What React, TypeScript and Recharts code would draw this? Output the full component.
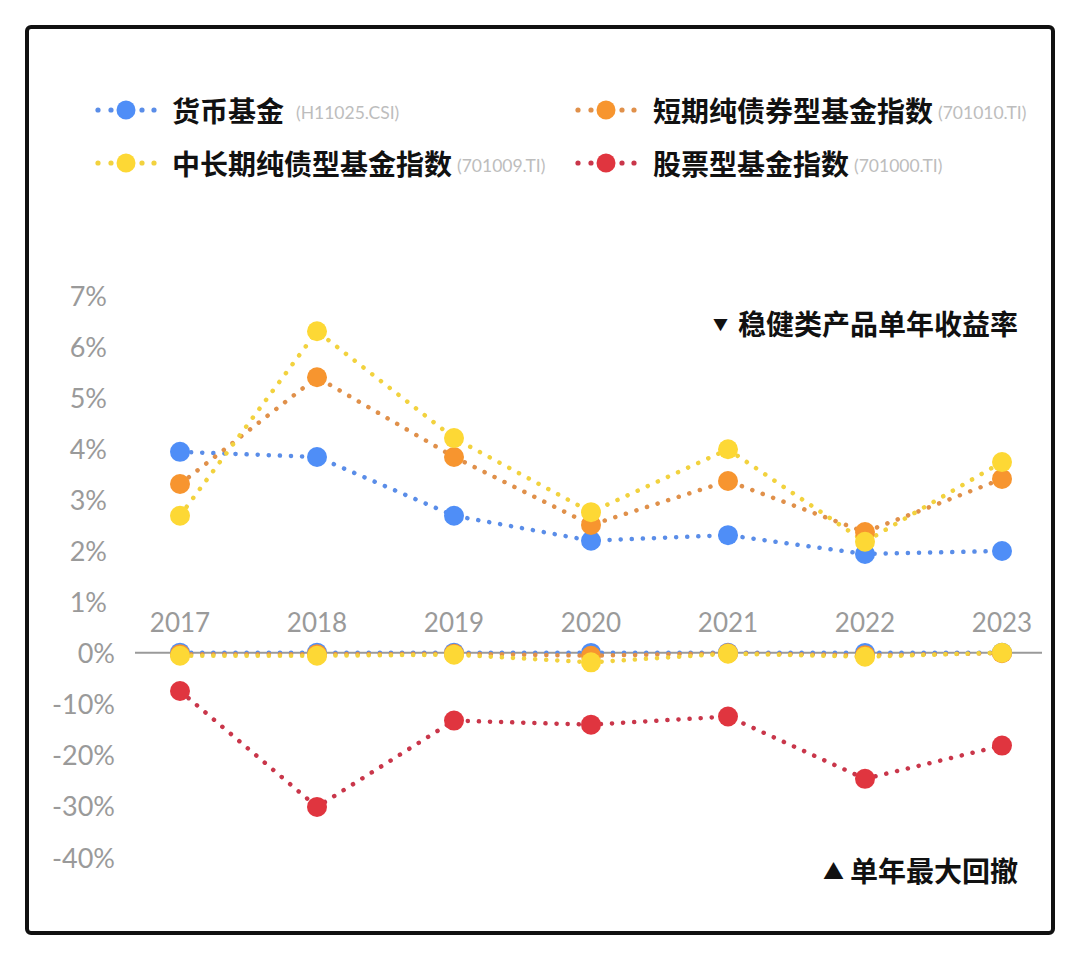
import React from "react"
import { Line, LineChart, ReferenceLine, XAxis, YAxis } from "recharts"

// 年份
const years = ["2017", "2018", "2019", "2020", "2021", "2022", "2023"]

// 单年收益率 (%)
const moneyReturn = [3.93, 3.83, 2.68, 2.19, 2.3, 1.93, 1.99]
const shortBondReturn = [3.3, 5.39, 3.83, 2.5, 3.36, 2.36, 3.4]
const longBondReturn = [2.68, 6.29, 4.2, 2.75, 3.98, 2.17, 3.73]

// 单年最大回撤 (%)
const moneyDrawdown = [0, 0, 0, -0.05, 0, -0.05, 0]
const shortBondDrawdown = [-0.3, -0.3, -0.2, -0.6, -0.1, -0.5, -0.1]
const longBondDrawdown = [-0.6, -0.6, -0.4, -1.9, -0.2, -0.8, 0]
const stockDrawdown = [-7.5, -30.2, -13.3, -14.1, -12.5, -24.7, -18.2]

// y 轴刻度: 正半轴 1% 一格, 负半轴 10% 一格
const yTicks = [-4, -3, -2, -1, 0, 1, 2, 3, 4, 5, 6, 7]

const DD_RATIO = 10 // 回撤区间压缩比

const COLORS = {
  money: { dot: "#4F8EF7", line: "#5A8DE8" },
  shortBond: { dot: "#F7952F", line: "#E0904A" },
  longBond: { dot: "#FDD835", line: "#F2D23E" },
  stock: { dot: "#E0353F", line: "#C9364A" },
}

const rows = years.map((year, i) => ({
  year,
  money: moneyReturn[i],
  shortBond: shortBondReturn[i],
  longBond: longBondReturn[i],
  moneyDd: moneyDrawdown[i] / DD_RATIO,
  shortBondDd: shortBondDrawdown[i] / DD_RATIO,
  longBondDd: longBondDrawdown[i] / DD_RATIO,
  stockDd: stockDrawdown[i] / DD_RATIO,
}))

const legendItems = [
  { name: "货币基金", code: "(H11025.CSI)", color: COLORS.money.dot, dots: COLORS.money.line },
  { name: "短期纯债券型基金指数", code: "(701010.TI)", color: COLORS.shortBond.dot, dots: COLORS.shortBond.line },
  { name: "中长期纯债型基金指数", code: "(701009.TI)", color: COLORS.longBond.dot, dots: COLORS.longBond.line },
  { name: "股票型基金指数", code: "(701000.TI)", color: COLORS.stock.dot, dots: COLORS.stock.line },
]

const NUM_FONT = "Lato, 'Noto Sans', sans-serif"
const CJK_FONT = "'Noto Sans CJK SC', 'Noto Sans', sans-serif"

function YTick(props: any) {
  const { x, y, payload } = props
  const v: number = payload.value
  const label = v >= 0 ? `${v}%` : `${v * DD_RATIO}%`
  return (
    <text
      x={x + (v <= 0 ? 8 : 0)}
      y={y}
      textAnchor="end"
      dominantBaseline="central"
      fill="#9A9A9A"
      fontSize={27}
      fontFamily={NUM_FONT}
    >
      {label}
    </text>
  )
}

function XTick(props: any) {
  const { x, y, payload } = props
  // 年份标签放在 0% 线上方
  return (
    <text
      x={x}
      y={y - 243}
      textAnchor="middle"
      dominantBaseline="central"
      fill="#9A9A9A"
      fontSize={26}
      fontFamily={NUM_FONT}
    >
      {payload.value}
    </text>
  )
}

function LegendMarker({ color, dots }: { color: string; dots: string }) {
  return (
    <svg width={64} height={24} style={{ display: "block" }}>
      <circle cx={4} cy={12} r={2.6} fill={dots} />
      <circle cx={17} cy={12} r={2.6} fill={dots} />
      <circle cx={32} cy={12} r={9.5} fill={color} />
      <circle cx={48} cy={12} r={2.6} fill={dots} />
      <circle cx={60} cy={12} r={2.6} fill={dots} />
    </svg>
  )
}

function series(key: string, c: { dot: string; line: string }) {
  return (
    <Line
      key={key}
      type="linear"
      dataKey={key}
      stroke={c.line}
      strokeWidth={4.5}
      strokeDasharray="0.1 11"
      strokeLinecap="round"
      dot={{ r: 10, fill: c.dot, stroke: "none" }}
      activeDot={false}
      isAnimationActive={false}
    />
  )
}

export default function App() {
  return (
    <div style={{ position: "relative", width: 1080, height: 956, background: "#fff", overflow: "hidden" }}>
      <style>{`body{margin:0}`}</style>
      <div
        style={{
          position: "absolute",
          left: 25,
          top: 25,
          width: 1030,
          height: 910,
          boxSizing: "border-box",
          border: "4.5px solid #111",
          borderRadius: 6,
        }}
      />

      {/* 图例 */}
      {legendItems.map((item, i) => {
        const col = i % 2
        const row = Math.floor(i / 2)
        return (
          <div
            key={item.name}
            style={{
              position: "absolute",
              left: col === 0 ? 94 : 574,
              top: 110 + row * 53 - 18,
              height: 36,
              display: "flex",
              alignItems: "center",
              whiteSpace: "nowrap",
            }}
          >
            <LegendMarker color={item.color} dots={item.dots} />
            <span
              style={{
                marginLeft: col === 0 ? 14 : 15,
                fontFamily: CJK_FONT,
                fontWeight: 700,
                fontSize: 28,
                color: "#111",
              }}
            >
              {item.name}
            </span>
            <span
              style={{
                marginLeft: col === 0 && row === 0 ? 12 : 5,
                fontFamily: NUM_FONT,
                fontSize: 17.5,
                color: "#BDBDBD",
                marginTop: 4,
              }}
            >
              {item.code}
            </span>
          </div>
        )
      })}

      <LineChart
        width={1080}
        height={956}
        data={rows}
        margin={{ top: 295, right: 38, bottom: 69, left: 35 }}
        style={{ position: "absolute", left: 0, top: 0 }}
      >
        <XAxis
          dataKey="year"
          height={30}
          axisLine={false}
          tickLine={false}
          padding={{ left: 45, right: 40 }}
          interval={0}
          tick={<XTick />}
        />
        <YAxis
          width={100}
          domain={[-4, 7]}
          ticks={yTicks}
          interval={0}
          axisLine={false}
          tickLine={false}
          tickMargin={22}
          tick={<YTick />}
        />
        <ReferenceLine y={0} stroke="#9A9A9A" strokeWidth={2} />
        {series("money", COLORS.money)}
        {series("shortBond", COLORS.shortBond)}
        {series("longBond", COLORS.longBond)}
        {series("moneyDd", COLORS.money)}
        {series("shortBondDd", COLORS.shortBond)}
        {series("longBondDd", COLORS.longBond)}
        {series("stockDd", COLORS.stock)}
      </LineChart>

      {/* 注释 */}
      <div
        style={{
          position: "absolute",
          right: 62,
          top: 323 - 20,
          height: 40,
          display: "flex",
          alignItems: "center",
          fontFamily: CJK_FONT,
          fontWeight: 700,
          fontSize: 28,
          color: "#111",
        }}
      >
        <span style={{ fontSize: 15, marginRight: 10 }}>▼</span>稳健类产品单年收益率
      </div>
      <div
        style={{
          position: "absolute",
          right: 62,
          top: 870 - 20,
          height: 40,
          display: "flex",
          alignItems: "center",
          fontFamily: CJK_FONT,
          fontWeight: 700,
          fontSize: 28,
          color: "#111",
        }}
      >
        <span style={{ fontSize: 21, marginRight: 6 }}>▲</span>单年最大回撤
      </div>
    </div>
  )
}
